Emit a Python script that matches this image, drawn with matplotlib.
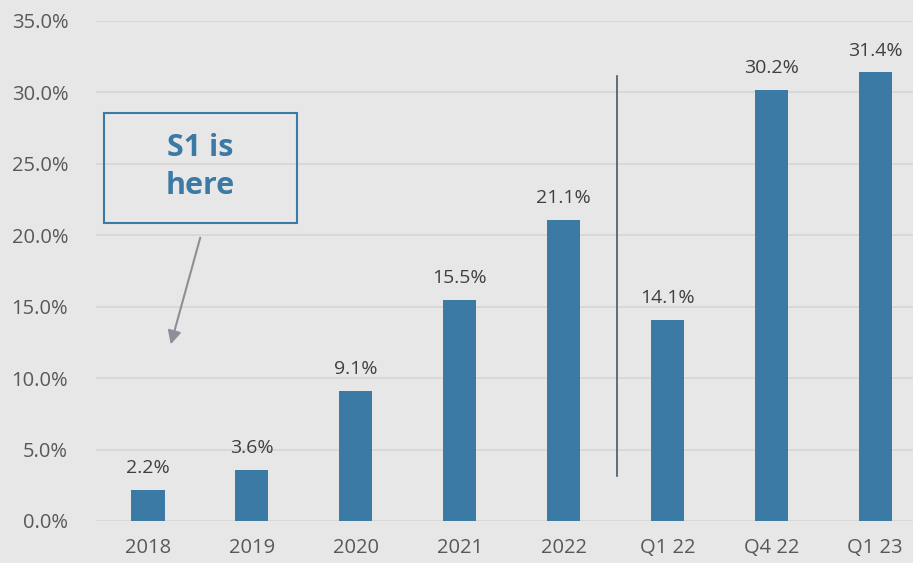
import matplotlib.pyplot as plt
from matplotlib.patches import Rectangle

categories = ['2018', '2019', '2020', '2021', '2022', 'Q1 22', 'Q4 22', 'Q1 23']
values = [2.2, 3.6, 9.1, 15.5, 21.1, 14.1, 30.2, 31.4]
yticks = [0, 5, 10, 15, 20, 25, 30, 35]

bg = '#E7E7E7'
bar_color = '#3A7AA5'
plt.rcParams['font.family'] = ['Open Sans', 'DejaVu Sans']

fig = plt.figure(figsize=(9.13, 5.63), dpi=100, facecolor=bg)
ax = fig.add_axes([96/913, 42/563, 817/913, 500/563])
ax.set_facecolor(bg)

x = list(range(len(categories)))
ax.bar(x, values, width=0.32, color=bar_color, zorder=3)
for xi, v in zip(x, values):
    ax.text(xi, v + 0.9, f'{v:.1f}%', ha='center', va='bottom',
            fontsize=14, color='#404040', zorder=4)

ax.set_xlim(-0.5, 7.363)
ax.set_ylim(0, 35)
ax.set_yticks(yticks)
ax.set_yticklabels([f'{t:.1f}%' for t in yticks])
ax.set_xticks(x)
ax.set_xticklabels(categories)
ax.tick_params(axis='both', length=0, labelsize=14.5, labelcolor='#595959')
ax.tick_params(axis='y', pad=20)
ax.tick_params(axis='x', pad=12)
ax.grid(axis='y', color='#D6D6D6', linewidth=1.2, zorder=0)
for s in ax.spines.values():
    s.set_visible(False)

# divider between annual and quarterly
ax.plot([4.514, 4.514], [3.15, 31.15], color='#4A5568', linewidth=1.2, zorder=4)

# callout box
ax.add_patch(Rectangle((0.0098, 0.596), 0.236, 0.22, transform=ax.transAxes,
                       fill=False, edgecolor=bar_color, linewidth=1.5, zorder=5))
ax.text(0.128, 0.708, 'S1 is\nhere', transform=ax.transAxes, ha='center', va='center',
        fontsize=22, fontweight='bold', color=bar_color, linespacing=1.35, zorder=5)
ax.annotate('', xy=(0.0906, 0.348), xytext=(0.1285, 0.572),
            xycoords='axes fraction', textcoords='axes fraction',
            arrowprops=dict(arrowstyle='-|>', color='#8C9096', lw=1.5,
                            mutation_scale=20), zorder=5)

fig.savefig('out.png', dpi=100, facecolor=bg)
